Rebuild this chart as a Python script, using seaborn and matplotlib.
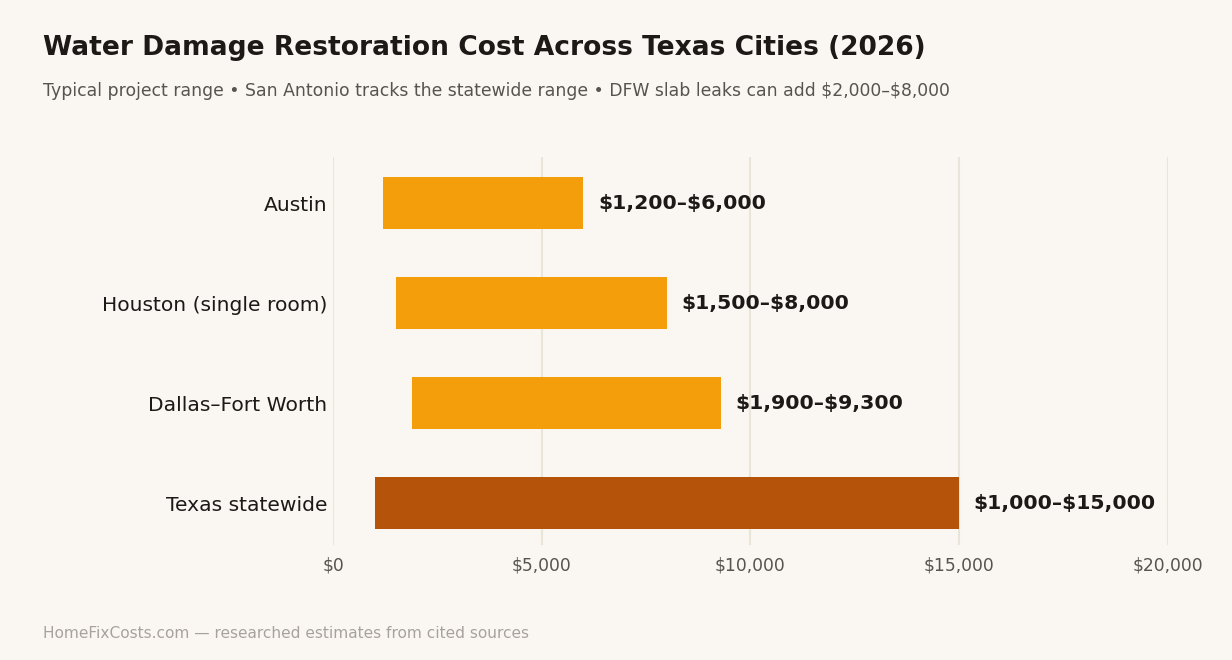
import matplotlib
matplotlib.use('Agg')
import matplotlib.pyplot as plt
import seaborn as sns
import pandas as pd
from matplotlib.ticker import FuncFormatter

# Data
cities = ['Austin', 'Houston (single room)', 'Dallas–Fort Worth', 'Texas statewide']
low_cost = [1200, 1500, 1900, 1000]
high_cost = [6000, 8000, 9300, 15000]
range_labels = ['$1,200–$6,000', '$1,500–$8,000', '$1,900–$9,300', '$1,000–$15,000']
bar_colors = ['#F59E0B', '#F59E0B', '#F59E0B', '#B45309']
x_ticks = [0, 5000, 10000, 15000, 20000]

BG = '#FAF7F2'
TEXT = '#1C1917'
MUTED = '#57534E'

sns.set_theme(style='whitegrid')
plt.rcParams['font.family'] = ['DejaVu Sans']
plt.rcParams['text.parse_math'] = False

df = pd.DataFrame({'city': cities, 'low': low_cost, 'high': high_cost})
df['span'] = df['high'] - df['low']

fig = plt.figure(figsize=(12.32, 6.6), dpi=100, facecolor=BG)
ax = fig.add_axes([0.2703, 0.1742, 0.948 - 0.2703, 0.7621 - 0.1742])
ax.set_facecolor(BG)

# floating bars: span drawn from the low end
sns.barplot(data=df, x='span', y='city', color=bar_colors[0], saturation=1,
            left=df['low'].values, width=0.52, ax=ax,
            edgecolor='none', linewidth=0)
for patch, c in zip(ax.patches, bar_colors):
    patch.set_facecolor(c)

for i, (hi, lab) in enumerate(zip(high_cost, range_labels)):
    ax.annotate(lab, xy=(hi, i), xytext=(10.5, 0), textcoords='offset points',
                ha='left', va='center', fontsize=14.7, fontweight='bold', color=TEXT)

ax.set_xlim(0, 20000)
ax.set_ylim(3.42, -0.46)
ax.set_xticks(x_ticks)
ax.xaxis.set_major_formatter(FuncFormatter(lambda v, p: f'${v:,.0f}'))
ax.set_xlabel('')
ax.set_ylabel('')
ax.grid(axis='x', color='#EAE4DA', linewidth=1.5)
ax.grid(axis='y', visible=False)
ax.set_axisbelow(True)
for s in ax.spines.values():
    s.set_visible(False)
ax.tick_params(axis='x', length=0, pad=8, labelsize=12.3, labelcolor=MUTED)
ax.tick_params(axis='y', length=0, pad=4, labelsize=14.6, labelcolor=TEXT)

fig.text(43 / 1232, 1 - 48 / 660, 'Water Damage Restoration Cost Across Texas Cities (2026)',
         fontsize=19.1, fontweight='bold', color=TEXT, ha='left', va='center')
fig.text(43 / 1232, 1 - 91 / 660,
         'Typical project range • San Antonio tracks the statewide range • DFW slab leaks can add $2,000–$8,000',
         fontsize=12.4, color=MUTED, ha='left', va='center')
fig.text(43 / 1232, 1 - 633 / 660, 'HomeFixCosts.com — researched estimates from cited sources',
         fontsize=11.1, color='#A8A29E', ha='left', va='center')

fig.savefig('out.png', dpi=100, facecolor=BG)
